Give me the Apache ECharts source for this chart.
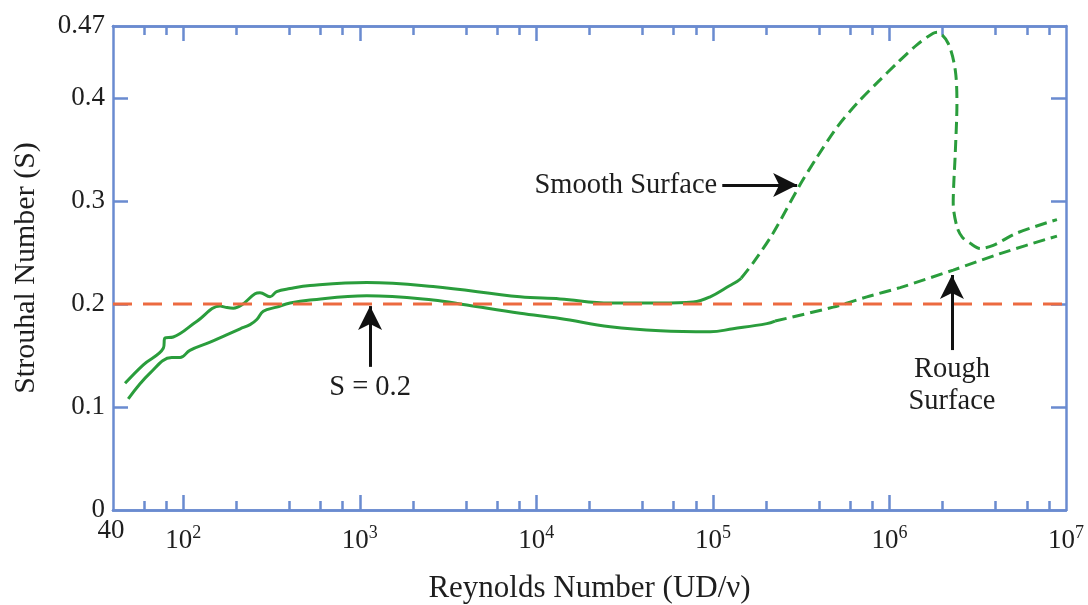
<!DOCTYPE html>
<html>
<head>
<meta charset="utf-8">
<script src="https://cdn.jsdelivr.net/npm/echarts@6/dist/echarts.min.js"></script>
<style>
html, body { margin: 0; padding: 0; background: #fff; }
#chart { width: 1088px; height: 605px; }
</style>
</head>
<body>
<div id="chart"></div>
<script>
// Strouhal number vs Reynolds number

// smooth surface curve (solid part, then dashed part)
const smoothSolidRe = [46.8, 59.4, 77.1, 78.8, 87.8, 119, 162, 172, 192, 214, 255, 272, 310, 338, 403, 523, 1095, 2600, 8090, 13600, 26200, 50300, 77300, 96500, 125000, 137000, 144500]
const smoothSolidS = [0.123, 0.141, 0.157, 0.167, 0.168, 0.183, 0.198, 0.197, 0.196, 0.199, 0.210, 0.211, 0.207, 0.212, 0.215, 0.218, 0.221, 0.217, 0.207, 0.205, 0.201, 0.201, 0.202, 0.207, 0.218, 0.222, 0.225]
const smoothDashRe = [144500, 169000, 219500, 312000, 390000, 506000, 656000, 853000, 1106000, 1436000, 1770000, 1866000, 2153000, 2360000, 2411000, 2360000, 2297000, 2411000, 2583000, 2869000, 3266000, 3871000, 5272000, 8887000]
const smoothDashS = [0.225, 0.240, 0.269, 0.316, 0.343, 0.372, 0.395, 0.415, 0.434, 0.452, 0.463, 0.464, 0.453, 0.427, 0.395, 0.347, 0.298, 0.275, 0.265, 0.259, 0.254, 0.257, 0.269, 0.282]

// rough surface curve
const roughSolidRe = [48.8, 64.8, 86.0, 95.9, 109, 142, 210, 239, 261, 284, 338, 403, 523, 1095, 2600, 4040, 8090, 13600, 26200, 50300, 96500, 130000, 202000, 225000]
const roughSolidS = [0.108, 0.133, 0.148, 0.148, 0.155, 0.163, 0.176, 0.180, 0.185, 0.193, 0.197, 0.201, 0.204, 0.208, 0.204, 0.199, 0.191, 0.186, 0.178, 0.174, 0.173, 0.176, 0.181, 0.1835]
const roughDashRe = [225000, 480000, 745000, 1150000, 2297000, 4237000, 8887000]
const roughDashS = [0.1835, 0.197, 0.207, 0.216, 0.233, 0.249, 0.266]

const refS = 0.2

// axis ticks and labels
const xLabelValues = [40, 1e2, 1e3, 1e4, 1e5, 1e6, 1e7]
const xMajorTicks = [1e2, 1e3, 1e4, 1e5, 1e6]
const xMinorTicks = [60, 80, 200, 400, 600, 800, 2e3, 4e3, 6e3, 8e3, 2e4, 4e4, 6e4, 8e4,
  2e5, 4e5, 6e5, 8e5, 2e6, 4e6, 6e6, 8e6]
const yLabelValues = [0, 0.1, 0.2, 0.3, 0.4, 0.47]
const yTicks = [0.1, 0.2, 0.3, 0.4]

const zip = (xs, ys) => xs.map((x, i) => [x, ys[i]])

const green = '#2a9d3c'
const axisColor = '#6a8bd0'
const textColor = '#1e1e1e'
const font = 'Liberation Serif'

let myChart = echarts.init(document.getElementById('chart'))

function xAxis(pos, ticks, len, main) {
  return {
    type: 'log', logBase: 10, min: 40, max: 1e7, position: pos,
    axisLine: { show: true, onZero: false, lineStyle: { color: axisColor, width: 2.5 } },
    axisTick: { show: true, inside: true, length: len, customValues: ticks, lineStyle: { color: axisColor, width: 2.5 } },
    minorTick: { show: false },
    splitLine: { show: false },
    axisLabel: main ? {
      customValues: xLabelValues,
      margin: 31,
      verticalAlign: 'middle',
      formatter: v => v < 50 ? '{p|40}' : '{b|10}{e|' + Math.round(Math.log10(v)) + '}',
      rich: {
        p: { fontFamily: font, fontSize: 27, color: textColor, padding: [0, 4, 20, 0] },
        b: { fontFamily: font, fontSize: 27, color: textColor },
        e: { fontFamily: font, fontSize: 18, color: textColor, padding: [0, 0, 16, 0] }
      }
    } : { show: false },
    name: main ? 'Reynolds Number (UD/ν)' : '',
    nameLocation: 'middle',
    nameGap: 63,
    nameTextStyle: { fontFamily: font, fontSize: 31, color: textColor }
  }
}

function yAxis(pos, main) {
  return {
    type: 'value', min: 0, max: 0.47, position: pos,
    axisLine: { show: true, onZero: false, lineStyle: { color: axisColor, width: 2.5 } },
    axisTick: { show: true, inside: true, length: 15, customValues: yTicks, lineStyle: { color: axisColor, width: 2.5 } },
    splitLine: { show: false },
    axisLabel: main ? {
      customValues: yLabelValues,
      margin: 8,
      fontFamily: font, fontSize: 27, color: textColor,
      formatter: v => String(v)
    } : { show: false },
    name: main ? 'Strouhal Number (S)' : '',
    nameLocation: 'middle',
    nameGap: 72,
    nameTextStyle: { fontFamily: font, fontSize: 30, color: textColor }
  }
}

const arrowStyle = { color: '#111', width: 3, type: 'solid' }
const noteLabel = { fontFamily: font, fontSize: 28.5, color: textColor, lineHeight: 32 }

let option = {
  animation: false,
  backgroundColor: '#fff',
  grid: { left: 113, right: 22, top: 26, bottom: 95, containLabel: false, outerBoundsMode: 'none' },
  xAxis: [
    xAxis('bottom', xMajorTicks, 15, true),
    xAxis('bottom', xMinorTicks, 9, false),
    xAxis('top', xMajorTicks, 15, false),
    xAxis('top', xMinorTicks, 9, false)
  ],
  yAxis: [yAxis('left', true), yAxis('right', false)],
  series: [
    {
      type: 'line', data: zip(smoothSolidRe, smoothSolidS), symbol: 'none',
      smooth: 0.4, lineStyle: { color: green, width: 3 }
    },
    {
      type: 'line', data: zip(smoothDashRe, smoothDashS), symbol: 'none',
      smooth: 0.3, lineStyle: { color: green, width: 3, type: [12, 6] }
    },
    {
      type: 'line', data: zip(roughSolidRe, roughSolidS), symbol: 'none',
      smooth: 0.4, lineStyle: { color: green, width: 3 }
    },
    {
      type: 'line', data: zip(roughDashRe, roughDashS), symbol: 'none',
      smooth: 0.3, lineStyle: { color: green, width: 3, type: [12, 6] }
    },
    {
      type: 'line', data: [[40, refS], [1e7, refS]], symbol: 'none',
      lineStyle: { color: '#ec6a40', width: 3, type: [19, 11] },
      markLine: {
        silent: true,
        symbol: ['none', 'arrow'],
        lineStyle: arrowStyle,
        label: Object.assign({ position: 'start', distance: 5 }, noteLabel),
        data: [
          [{ coord: [1.13e5, 0.3155], label: { formatter: 'Smooth Surface' } },
           { coord: [3.0e5, 0.3155], symbolSize: [18, 24] }],
          [{ coord: [1143, 0.139], label: { formatter: 'S = 0.2' } },
           { coord: [1143, 0.198], symbolSize: [18, 24] }],
          [{ coord: [2.26e6, 0.1553], label: { formatter: 'Rough\nSurface', distance: 3 } },
           { coord: [2.26e6, 0.2282], symbolSize: [18, 24] }]
        ]
      }
    }
  ]
}

myChart.setOption(option)
</script>
</body>
</html>
